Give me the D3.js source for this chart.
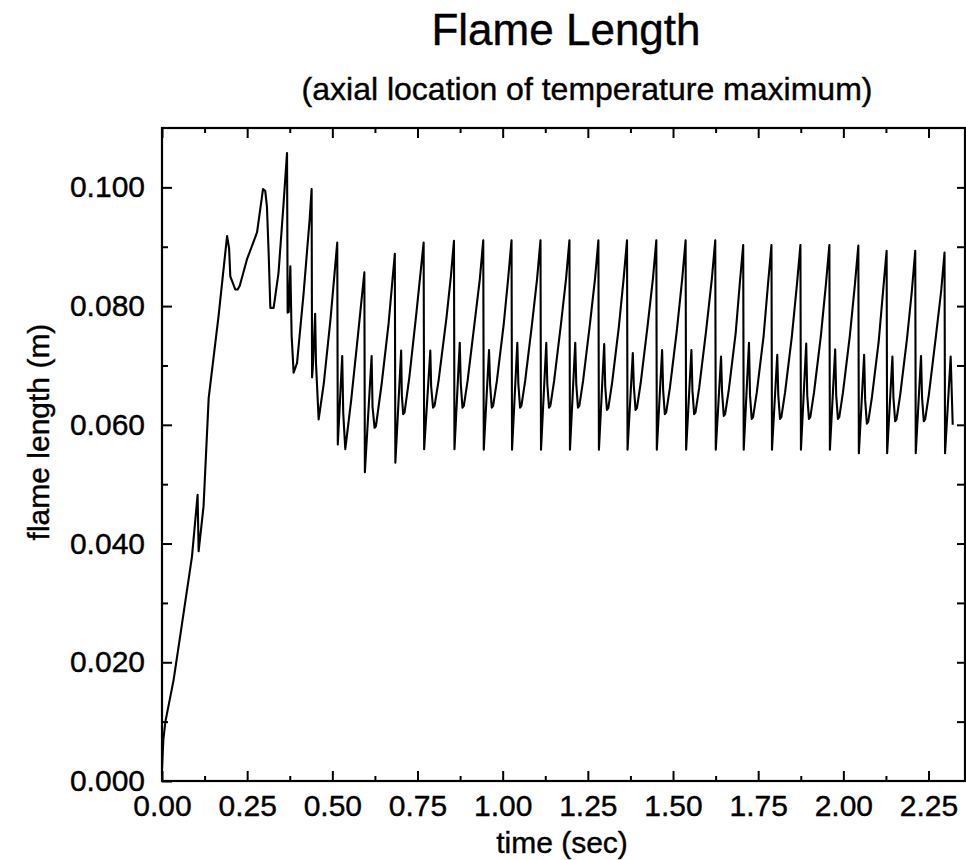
<!DOCTYPE html>
<html>
<head>
<meta charset="utf-8">
<script src="https://cdn.jsdelivr.net/npm/d3@7/dist/d3.min.js"></script>
<style>
  body { margin: 0; background: #fff; }
  svg { display: block; font-family: "Liberation Sans", Arial, Helvetica, sans-serif; }
  .axis path { display: none; }
  .axis line { stroke: #000; stroke-width: 2; }
  .axis text { font-size: 30px; fill: #000; stroke: #000; stroke-width: 0.4; }
  .label { fill: #000; stroke: #000; stroke-width: 0.4; }
</style>
</head>
<body>
<svg id="chart"></svg>
<script>
// time (s) vs flame length (m)
const earlyPoints = [
  [0.000, 0.0020], [0.004, 0.0070], [0.010, 0.0100], [0.034, 0.0170], [0.059, 0.0266],
  [0.088, 0.0378], [0.1045, 0.0482], [0.1075, 0.0387], [0.122, 0.0463], [0.137, 0.0645],
  [0.166, 0.0783], [0.191, 0.0918], [0.197, 0.0897], [0.2005, 0.0850], [0.215, 0.0828],
  [0.222, 0.0828], [0.228, 0.0834], [0.2495, 0.0879], [0.279, 0.0924], [0.2965, 0.0997],
  [0.303, 0.0994], [0.308, 0.0968], [0.313, 0.0890], [0.318, 0.0797], [0.3277, 0.0797],
  [0.342, 0.0856], [0.357, 0.0974], [0.367, 0.1058], [0.3688, 0.0789], [0.372, 0.0790],
  [0.3767, 0.0867], [0.3805, 0.0750], [0.3864, 0.0688], [0.3963, 0.0704], [0.4157, 0.0822],
  [0.4334, 0.0946], [0.4392, 0.0997], [0.4405, 0.0680], [0.443, 0.0700], [0.4495, 0.0787],
  [0.452, 0.0704], [0.4598, 0.0609], [0.475, 0.0670], [0.495, 0.0780], [0.5144, 0.0907],
  [0.516, 0.0567], [0.529, 0.0716], [0.532, 0.0620], [0.538, 0.0559], [0.555, 0.0640],
  [0.575, 0.0750], [0.594, 0.0857],
  [0.5955, 0.0520], [0.6153, 0.0716], [0.618, 0.0630], [0.624, 0.0595], [0.628, 0.0598],
  [0.645, 0.0670], [0.665, 0.0770], [0.6834, 0.0888],
  [0.685, 0.0536], [0.702, 0.0725], [0.704, 0.0650], [0.708, 0.0618], [0.712, 0.0621],
  [0.726, 0.0680], [0.747, 0.0790], [0.768, 0.0907],
  [0.7695, 0.0559], [0.7876, 0.0725], [0.790, 0.0665], [0.7956, 0.0629], [0.800, 0.0632],
  [0.812, 0.0675], [0.835, 0.0780], [0.848, 0.0850]
];

// steady oscillation: peak, drop, spike, dip, rise
const cyclePoints = [
  [0.857, 0.0910], [0.8585, 0.0559], [0.874, 0.0738], [0.877, 0.0669], [0.882, 0.0629], [0.886, 0.0632], [0.897, 0.0674], [0.917, 0.0769], [0.933, 0.0846],
  [0.943, 0.0911], [0.9445, 0.0558], [0.960, 0.0726], [0.963, 0.0669], [0.968, 0.0629], [0.972, 0.0632], [0.983, 0.0674], [1.003, 0.0769], [1.016, 0.0846],
  [1.026, 0.0911], [1.0275, 0.0558], [1.043, 0.0738], [1.046, 0.0669], [1.051, 0.0629], [1.055, 0.0632], [1.066, 0.0674], [1.086, 0.0769], [1.101, 0.0846],
  [1.111, 0.0911], [1.1125, 0.0558], [1.128, 0.0738], [1.131, 0.0669], [1.136, 0.0629], [1.140, 0.0632], [1.151, 0.0674], [1.171, 0.0769], [1.186, 0.0846],
  [1.196, 0.0911], [1.1975, 0.0558], [1.213, 0.0738], [1.216, 0.0669], [1.221, 0.0629], [1.225, 0.0632], [1.236, 0.0674], [1.256, 0.0769], [1.271, 0.0846],
  [1.281, 0.0911], [1.2825, 0.0558], [1.298, 0.0736], [1.301, 0.0665], [1.306, 0.0625], [1.310, 0.0628], [1.321, 0.0670], [1.341, 0.0765], [1.355, 0.0846],
  [1.365, 0.0911], [1.3665, 0.0558], [1.382, 0.0721], [1.385, 0.0665], [1.390, 0.0625], [1.394, 0.0628], [1.405, 0.0670], [1.425, 0.0765], [1.441, 0.0846],
  [1.451, 0.0911], [1.4525, 0.0558], [1.468, 0.0726], [1.471, 0.0658], [1.476, 0.0618], [1.480, 0.0621], [1.491, 0.0663], [1.511, 0.0758], [1.527, 0.0846],
  [1.537, 0.0911], [1.5385, 0.0558], [1.554, 0.0726], [1.557, 0.0658], [1.562, 0.0618], [1.566, 0.0621], [1.577, 0.0663], [1.597, 0.0758], [1.614, 0.0846],
  [1.624, 0.0911], [1.6255, 0.0558], [1.641, 0.0715], [1.644, 0.0655], [1.649, 0.0615], [1.653, 0.0618], [1.664, 0.0660], [1.684, 0.0755], [1.696, 0.0838],
  [1.706, 0.0903], [1.7075, 0.0558], [1.723, 0.0738], [1.726, 0.0650], [1.731, 0.0610], [1.735, 0.0613], [1.746, 0.0655], [1.766, 0.0750], [1.779, 0.0838],
  [1.789, 0.0903], [1.7905, 0.0558], [1.806, 0.0718], [1.809, 0.0650], [1.814, 0.0610], [1.818, 0.0613], [1.829, 0.0655], [1.849, 0.0750], [1.864, 0.0838],
  [1.874, 0.0903], [1.8755, 0.0558], [1.891, 0.0737], [1.894, 0.0650], [1.899, 0.0610], [1.903, 0.0613], [1.914, 0.0655], [1.934, 0.0750], [1.949, 0.0838],
  [1.959, 0.0903], [1.9605, 0.0558], [1.976, 0.0727], [1.979, 0.0650], [1.984, 0.0610], [1.988, 0.0613], [1.999, 0.0655], [2.019, 0.0750], [2.034, 0.0837],
  [2.044, 0.0902], [2.0455, 0.0552], [2.061, 0.0718], [2.064, 0.0642], [2.069, 0.0602], [2.073, 0.0605], [2.084, 0.0647], [2.104, 0.0742], [2.117, 0.0828],
  [2.127, 0.0893], [2.1285, 0.0552], [2.144, 0.0715], [2.147, 0.0646], [2.152, 0.0606], [2.156, 0.0609], [2.167, 0.0651], [2.187, 0.0746], [2.201, 0.0825],
  [2.211, 0.0893], [2.2125, 0.0552], [2.228, 0.0716], [2.231, 0.0646], [2.236, 0.0606], [2.240, 0.0609], [2.251, 0.0651], [2.271, 0.0746], [2.287, 0.0825],
  [2.297, 0.0890], [2.2985, 0.0552], [2.315, 0.0715], [2.321, 0.0600]
];

const xMajorTicks = [0, 0.25, 0.5, 0.75, 1.0, 1.25, 1.5, 1.75, 2.0, 2.25];
const xMinorTicks = [0.125, 0.375, 0.625, 0.875, 1.125, 1.375, 1.625, 1.875, 2.125];
const yMajorTicks = [0, 0.02, 0.04, 0.06, 0.08, 0.10];
const yMinorTicks = [0.01, 0.03, 0.05, 0.07, 0.09];
const yAllTicks = [0.01, 0.02, 0.03, 0.04, 0.05, 0.06, 0.07, 0.08, 0.09, 0.10];

const width = 966, height = 860;
const plot = { left: 162, right: 965, top: 128, bottom: 781 };

const svg = d3.select("#chart").attr("width", width).attr("height", height);

const x = d3.scaleLinear().domain([0, 2.36]).range([plot.left, plot.right + 1]);
const y = d3.scaleLinear().domain([0, 0.11]).range([plot.bottom, plot.top]);

const data = earlyPoints.concat(cyclePoints);

// axes with inward ticks
svg.append("g")
  .attr("class", "axis")
  .attr("transform", `translate(0,${plot.bottom})`)
  .call(d3.axisBottom(x).tickValues(xMajorTicks).tickSize(-10).tickPadding(14).tickFormat(d3.format(".2f")));

svg.append("g")
  .attr("class", "axis")
  .attr("transform", `translate(0,${plot.bottom})`)
  .call(d3.axisBottom(x).tickValues(xMinorTicks).tickSize(-5).tickFormat(""));

svg.append("g")
  .attr("class", "axis")
  .attr("transform", `translate(0,${plot.top})`)
  .call(d3.axisTop(x).tickValues(xMajorTicks).tickSize(-10).tickFormat(""));

svg.append("g")
  .attr("class", "axis")
  .attr("transform", `translate(0,${plot.top})`)
  .call(d3.axisTop(x).tickValues(xMinorTicks).tickSize(-5).tickFormat(""));

svg.append("g")
  .attr("class", "axis")
  .attr("transform", `translate(${plot.left},0)`)
  .call(d3.axisLeft(y).tickValues(yMajorTicks).tickSize(-10).tickPadding(17).tickFormat(d3.format(".3f")));

svg.append("g")
  .attr("class", "axis")
  .attr("transform", `translate(${plot.left},0)`)
  .call(d3.axisLeft(y).tickValues(yMinorTicks).tickSize(-6).tickFormat(""));

svg.append("g")
  .attr("class", "axis")
  .attr("transform", `translate(${plot.right},0)`)
  .call(d3.axisRight(y).tickValues(yAllTicks).tickSize(-8).tickFormat(""));

// frame
svg.append("rect")
  .attr("x", plot.left)
  .attr("y", plot.top)
  .attr("width", plot.right - plot.left)
  .attr("height", plot.bottom - plot.top)
  .attr("fill", "none")
  .attr("stroke", "#000")
  .attr("stroke-width", 2.2);

const line = d3.line()
  .x(d => x(d[0]))
  .y(d => y(d[1]));

svg.append("path")
  .datum(data)
  .attr("d", line)
  .attr("fill", "none")
  .attr("stroke", "#000")
  .attr("stroke-width", 2.1)
  .attr("stroke-linejoin", "round");

// titles and axis labels
svg.append("text")
  .attr("class", "label")
  .attr("x", 566)
  .attr("y", 45)
  .attr("text-anchor", "middle")
  .style("font-size", "44px")
  .text("Flame Length");

svg.append("text")
  .attr("class", "label")
  .attr("x", 587)
  .attr("y", 100)
  .attr("text-anchor", "middle")
  .style("font-size", "32px")
  .text("(axial location of temperature maximum)");

svg.append("text")
  .attr("class", "label")
  .attr("x", 562)
  .attr("y", 853)
  .attr("text-anchor", "middle")
  .style("font-size", "30px")
  .text("time (sec)");

svg.append("text")
  .attr("class", "label")
  .attr("transform", "translate(49,432) rotate(-90)")
  .attr("text-anchor", "middle")
  .style("font-size", "30px")
  .text("flame length (m)");
</script>
</body>
</html>
